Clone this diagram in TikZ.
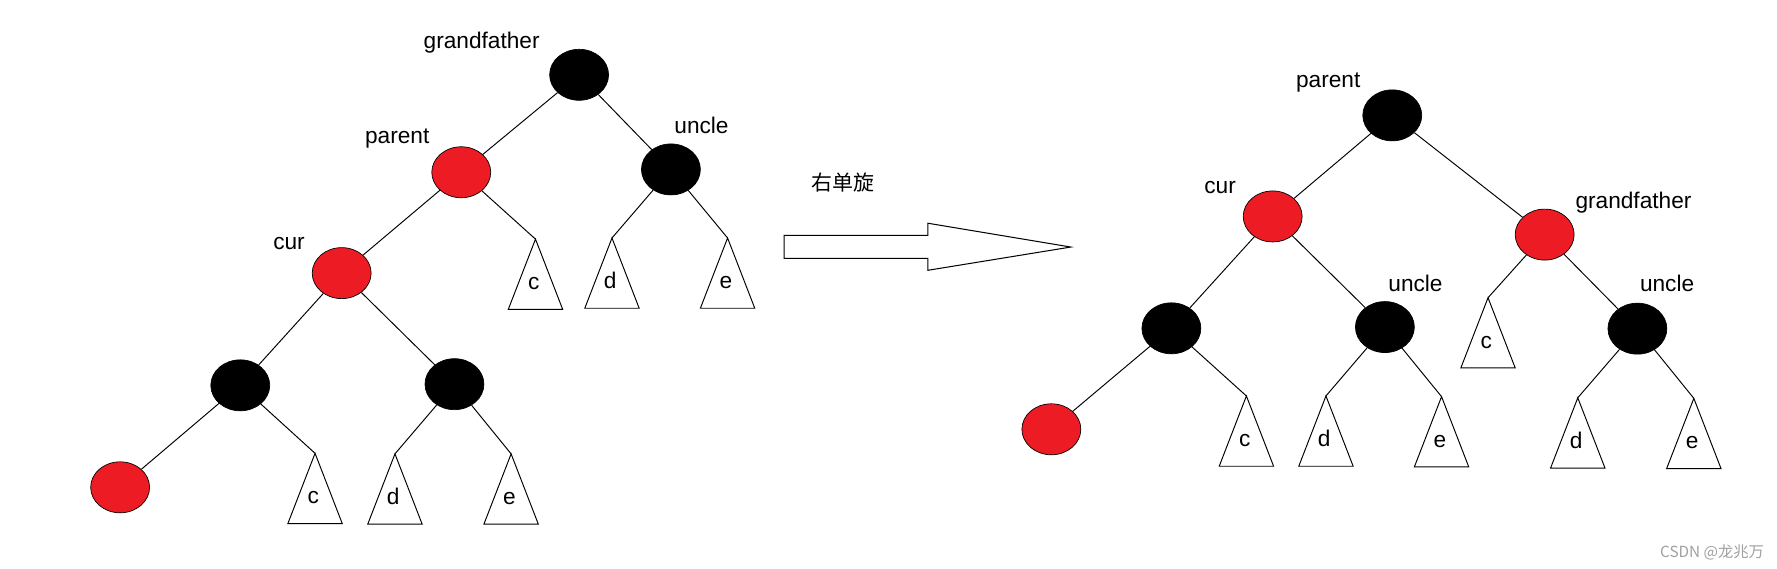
\documentclass[tikz,border=0pt]{standalone}
\usepackage{fontspec}
\setmainfont{Liberation Sans}
\newfontfamily\cjk{Noto Sans CJK SC}
\usetikzlibrary{shapes.geometric,calc}
\definecolor{rbred}{RGB}{237,28,36}
\definecolor{wmgray}{RGB}{160,160,160}
\tikzset{
  rbnode/.style={ellipse, minimum width=52pt, minimum height=45pt, inner sep=0pt, draw=black, line width=0.6pt},
  blk/.style={rbnode, fill=black},
  rd/.style={rbnode, fill=rbred},
  edge/.style={draw=black, line width=0.85pt},
  tri/.style={draw=black, line width=0.85pt, line join=miter},
  lab/.style={font=\fontsize{20}{24}\selectfont, inner sep=0pt, anchor=base},
  labw/.style={lab, anchor=base west},
  zh/.style={font=\cjk\fontsize{18.5}{22}\selectfont, inner sep=0pt},
  wm/.style={font=\cjk\fontsize{13.5}{16}\selectfont, inner sep=0pt, text=wmgray},
  bigarrow/.style={draw=black, line width=0.9pt, fill=white, line join=miter}
}
\newcommand{\subtri}[4]{%
  \coordinate (#1) at (#2,#3);
  \draw[tri] (#1) -- ++(-24,62) -- ++(48,0) -- cycle;
  \node[lab] (#1l) at ($(#1)+(-1.5,44.5)$) {#4};
}
\begin{document}
\begin{tikzpicture}[x=1pt,y=-1pt]
\useasboundingbox (0,0) rectangle (1568,502);

% ---------- left tree ----------
\node[blk] (gfL) at (511,66) {};
\node[rd]  (parL) at (407,152) {};
\node[blk] (uncL) at (592,149.5) {};
\node[rd]  (curL) at (301.5,241) {};
\node[blk] (blL) at (212,340) {};
\node[blk] (brL) at (401,339) {};
\node[rd]  (leafL) at (106,430) {};

\subtri{tcA}{472.5}{211}{c}
\subtri{tdA}{540}{210}{d}
\subtri{teA}{642}{210}{e}
\subtri{tcB}{278}{400}{c}
\subtri{tdB}{348.5}{400.5}{d}
\subtri{teB}{451}{400.5}{e}

\draw[edge] (gfL) -- (parL);
\draw[edge] (gfL) -- (uncL);
\draw[edge] (parL) -- (curL);
\draw[edge] (parL) -- (tcA);
\draw[edge] (uncL) -- (tdA);
\draw[edge] (uncL) -- (teA);
\draw[edge] (curL) -- (blL);
\draw[edge] (curL) -- (brL);
\draw[edge] (blL) -- (leafL);
\draw[edge] (blL) -- (tcB);
\draw[edge] (brL) -- (tdB);
\draw[edge] (brL) -- (teB);

\node[lab] (gfLt) at (425,43) {grandfather};
\node[lab] (parLt) at (350.5,127) {parent};
\node[lab] (uncLt) at (619,117.5) {uncle};
\node[lab] (curLt) at (255,220.5) {cur};

% ---------- arrow ----------
\node[zh] (rot) at (743.5,161) {右单旋};
\draw[bigarrow] (691.8,207.6) -- (818.8,207.6) -- (818.8,197) -- (944.8,218)
  -- (818.8,238.5) -- (818.8,228) -- (691.8,228) -- cycle;

% ---------- right tree ----------
\node[blk] (parR) at (1228.5,101.8) {};
\node[rd]  (curR) at (1123,191) {};
\node[rd]  (gfR) at (1363,207) {};
\node[blk] (blR) at (1033.6,289.7) {};
\node[blk] (un1R) at (1222,288.6) {};
\node[blk] (un2R) at (1444.8,290) {};
\node[rd]  (leafR) at (927.7,378.8) {};

\subtri{tcC}{1313}{262.7}{c}
\subtri{tcD}{1099.8}{349.4}{c}
\subtri{tdD}{1170}{349.4}{d}
\subtri{teD}{1272}{350}{e}
\subtri{tdE}{1392.2}{351}{d}
\subtri{teE}{1494.6}{351.5}{e}

\draw[edge] (parR) -- (curR);
\draw[edge] (parR) -- (gfR);
\draw[edge] (curR) -- (blR);
\draw[edge] (curR) -- (un1R);
\draw[edge] (gfR) -- (tcC);
\draw[edge] (gfR) -- (un2R);
\draw[edge] (blR) -- (leafR);
\draw[edge] (blR) -- (tcD);
\draw[edge] (un1R) -- (tdD);
\draw[edge] (un1R) -- (teD);
\draw[edge] (un2R) -- (tdE);
\draw[edge] (un2R) -- (teE);

\node[lab] (parRt) at (1172,77) {parent};
\node[lab] (curRt) at (1076.6,170.5) {cur};
\node[labw] (gfRt) at (1390,184) {grandfather};
\node[lab] (un1Rt) at (1249,257.4) {uncle};
\node[lab] (un2Rt) at (1471,257.4) {uncle};

% ---------- watermark ----------
\node[wm] (mark) at (1510.7,487.5) {CSDN @龙兆万};
\end{tikzpicture}
\end{document}
